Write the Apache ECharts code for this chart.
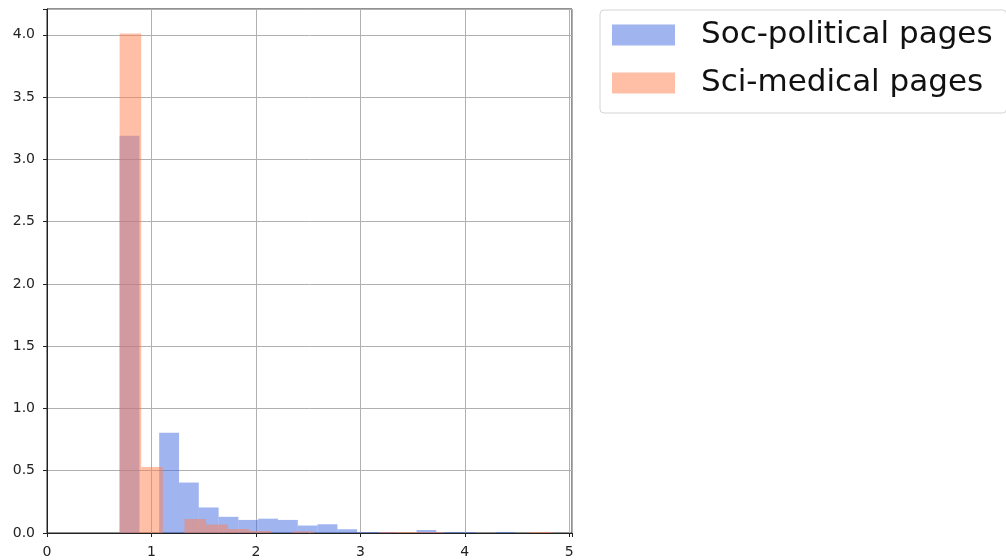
<!DOCTYPE html>
<html>
<head>
<meta charset="utf-8">
<script src="https://cdn.jsdelivr.net/npm/echarts@6/dist/echarts.min.js"></script>
<style>html,body{margin:0;padding:0;background:#fff}#chart{width:1006px;height:560px}</style>
</head>
<body>
<div id="chart"></div>
<script>
// Soc-political pages histogram (density) bin edges and heights
const socEdges = [0.695, 0.885, 1.074, 1.264, 1.453, 1.643, 1.832, 2.022, 2.211, 2.401, 2.590, 2.780, 2.969, 3.159, 3.348, 3.538, 3.727, 3.917, 4.106, 4.296, 4.485];
const socValues = [3.19, 0, 0.805, 0.405, 0.205, 0.13, 0.105, 0.115, 0.105, 0.06, 0.07, 0.03, 0.008, 0.008, 0, 0.024, 0.008, 0.008, 0, 0.008];
// Sci-medical pages histogram bin edges and heights
const sciEdges = [0.695, 0.902, 1.109, 1.316, 1.523, 1.730, 1.937, 2.144, 2.351, 2.558, 2.765, 2.972, 3.179, 3.386, 3.593, 3.800, 4.007, 4.214, 4.421, 4.628, 4.835];
const sciValues = [4.01, 0.53, 0, 0.112, 0.068, 0.032, 0.016, 0, 0.012, 0, 0, 0, 0.008, 0.008, 0.008, 0, 0, 0, 0, 0.008];
const seriesNames = ['Soc-political pages', 'Sci-medical pages'];
const xTicks = [0, 1, 2, 3, 4, 5];
const yTicks = [0.0, 0.5, 1.0, 1.5, 2.0, 2.5, 3.0, 3.5, 4.0];

function bins(edges, vals) {
  return vals.map((v, i) => [edges[i], edges[i + 1], v]);
}
function renderBar(params, api) {
  const p0 = api.coord([api.value(0), api.value(2)]);
  const p1 = api.coord([api.value(1), 0]);
  return {
    type: 'rect',
    shape: { x: p0[0], y: p0[1], width: p1[0] - p0[0], height: p1[1] - p0[1] },
    style: { fill: api.visual('color') }
  };
}
const font = 'DejaVu Sans';
const chart = echarts.init(document.getElementById('chart'), null, { renderer: 'canvas' });
chart.setOption({
  animation: false,
  backgroundColor: '#fff',
  grid: { left: 47, top: 9, width: 525, height: 524, show: true, borderColor: '#222', borderWidth: 1, backgroundColor: 'transparent' },
  xAxis: {
    type: 'value', min: 0, max: 5.026, interval: 1,
    axisLine: { show: true, lineStyle: { color: '#222', width: 1 } },
    axisTick: { show: true, length: 4, lineStyle: { color: '#222' } },
    axisLabel: { margin: 12, fontFamily: font, fontSize: 14, color: '#222',
      formatter: v => xTicks.some(t => Math.abs(t - v) < 1e-6) ? String(Math.round(v)) : '' },
    splitLine: { show: true, lineStyle: { color: '#b0b0b0', width: 1 } }
  },
  yAxis: {
    type: 'value', min: 0, max: 4.207, interval: 0.5,
    axisLine: { show: true, lineStyle: { color: '#222', width: 1 } },
    axisTick: { show: true, length: 4, lineStyle: { color: '#222' } },
    axisLabel: { margin: 12, fontFamily: font, fontSize: 14, color: '#222',
      formatter: v => yTicks.some(t => Math.abs(t - v) < 1e-6) ? v.toFixed(1) : '' },
    splitLine: { show: true, lineStyle: { color: '#b0b0b0', width: 1 } }
  },
  legend: {
    orient: 'vertical', left: 600, top: 10,
    padding: [6, 14, 11, 12], itemGap: 10, itemWidth: 63, itemHeight: 21,
    backgroundColor: '#fff', borderColor: '#d4d4d4', borderWidth: 1, borderRadius: 4,
    icon: 'rect',
    textStyle: { fontFamily: font, fontSize: 31, color: '#111', lineHeight: 34, padding: [4, 0, 0, 21] },
    data: seriesNames
  },
  series: [
    { name: seriesNames[0], type: 'custom', renderItem: renderBar,
      itemStyle: { color: 'rgba(65,105,225,0.5)' },
      encode: { x: [0, 1], y: 2 }, data: bins(socEdges, socValues) },
    { name: seriesNames[1], type: 'custom', renderItem: renderBar,
      itemStyle: { color: 'rgba(255,127,80,0.5)' },
      encode: { x: [0, 1], y: 2 }, data: bins(sciEdges, sciValues) }
  ]
});
</script>
</body>
</html>
